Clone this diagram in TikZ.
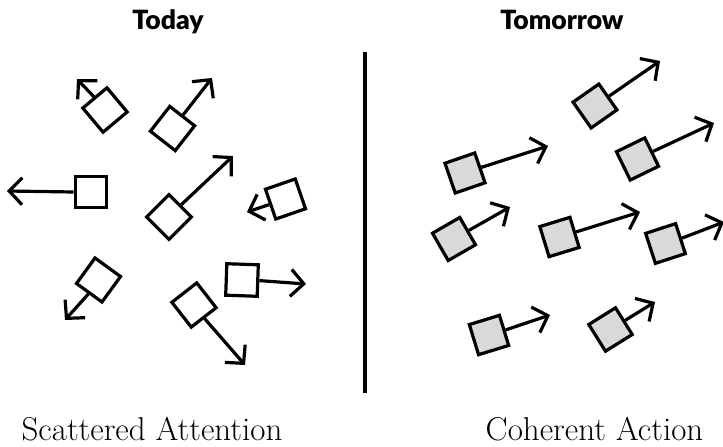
\documentclass[tikz,border=0pt]{standalone}
\usepackage{fontspec}
\setsansfont{Lato}
\newfontfamily\headfont{Lato Black}
\usetikzlibrary{arrows.meta}

\begin{document}
\begin{tikzpicture}[x=1pt,y=-1pt,line width=3.2pt,line join=miter,
        box/.style={rectangle,draw,inner sep=0pt,minimum size=31.5pt},
        grey box/.style={box,fill=black!15},
        arr/.style={-{Straight Barb[length=13pt,width=27pt]}},
        title/.style={anchor=base,inner sep=0pt,font=\headfont\fontsize{26.5}{26.5}\selectfont},
        caption/.style={anchor=base,inner sep=0pt,font=\fontsize{33}{33}\selectfont}]

    \useasboundingbox (0,0) rectangle (723,447);

    % headings and captions
    \node[title] (today) at (168,29) {Today};
    \node[title] (tomorrow) at (562,29) {Tomorrow};
    \node[caption] (scattered) at (152,440) {Scattered Attention};
    \node[caption] (coherent) at (594.5,440) {Coherent Action};

    % divider
    \coordinate (divtop) at (365,52);
    \coordinate (divbot) at (365,393);
    \draw[line width=3.2pt] (divtop) -- (divbot);

    % today: boxes pulling every which way
    \node[box, rotate=130] (s1) at (105,110) {};
    \node[box, rotate=52] (s2) at (172.5,128.5) {};
    \node[box, rotate=180] (s3) at (91,192) {};
    \node[box, rotate=45] (s4) at (169,217) {};
    \node[box, rotate=199] (s5) at (285.5,199) {};
    \node[box, rotate=234] (s6) at (98.5,280) {};
    \node[box, rotate=308] (s7) at (194,305) {};
    \node[box, rotate=-2] (s8) at (242,280) {};

    \coordinate (s1t) at (77,79);
    \coordinate (s2t) at (212,78);
    \coordinate (s3t) at (7,191);
    \coordinate (s4t) at (233,156);
    \coordinate (s5t) at (247,212);
    \coordinate (s6t) at (65,320);
    \coordinate (s7t) at (245,365);
    \coordinate (s8t) at (306,284);

    \path[arr]
    (s1.east) edge (s1t)
    (s2.east) edge (s2t)
    (s3.east) edge (s3t)
    (s4.east) edge (s4t)
    (s5.east) edge (s5t)
    (s6.east) edge (s6t)
    (s7.east) edge (s7t)
    (s8.east) edge (s8t);

    % tomorrow: boxes all heading the same way
    \node[grey box, rotate=35] (t1) at (595,106) {};
    \node[grey box, rotate=26] (t2) at (637.5,159) {};
    \node[grey box, rotate=19] (t3) at (465,173) {};
    \node[grey box, rotate=30] (t4) at (454,239) {};
    \node[grey box, rotate=17] (t5) at (559.5,237) {};
    \node[grey box, rotate=18] (t6) at (665.5,243.5) {};
    \node[grey box, rotate=17] (t7) at (489,335) {};
    \node[grey box, rotate=32] (t8) at (610.5,329.5) {};

    \coordinate (t1t) at (660,61);
    \coordinate (t2t) at (714,123);
    \coordinate (t3t) at (548,146);
    \coordinate (t4t) at (510,207);
    \coordinate (t5t) at (640,212);
    \coordinate (t6t) at (724,222);
    \coordinate (t7t) at (550,315);
    \coordinate (t8t) at (655,302);

    \path[arr]
    (t1.east) edge (t1t)
    (t2.east) edge (t2t)
    (t3.east) edge (t3t)
    (t4.east) edge (t4t)
    (t5.east) edge (t5t)
    (t6.east) edge (t6t)
    (t7.east) edge (t7t)
    (t8.east) edge (t8t);

\end{tikzpicture}
\end{document}
